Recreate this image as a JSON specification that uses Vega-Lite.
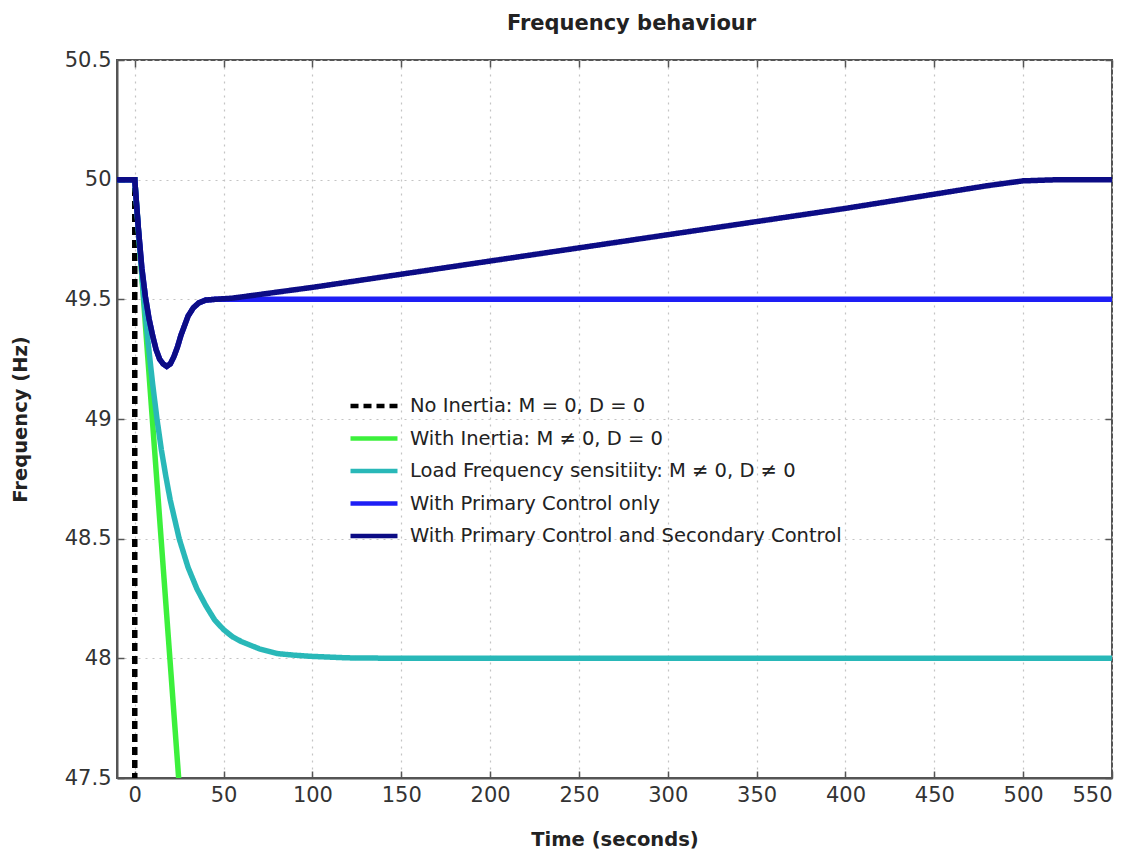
{
  "$schema": "https://vega.github.io/schema/vega-lite/v6.json",
  "width": 995,
  "height": 718,
  "autosize": {"type": "none"},
  "padding": {"left": 117, "top": 60, "right": 30, "bottom": 75},
  "background": "white",
  "title": {"text": "Frequency behaviour", "font": "DejaVu Sans", "fontSize": 21, "fontWeight": "bold", "color": "#222", "offset": 15, "dx": 17},
  "config": {
    "view": {"stroke": "#555", "strokeWidth": 2},
    "axis": {"labelFont": "DejaVu Sans", "labelFontSize": 21, "labelColor": "#333", "titleFont": "DejaVu Sans", "titleFontSize": 19.5, "titleFontWeight": "bold", "titleColor": "#222", "domainColor": "#555", "domainWidth": 2, "tickColor": "#555", "tickWidth": 1.5, "tickSize": -7, "gridColor": "#c4c4c4", "gridDash": [2, 5], "gridWidth": 1.2}
  },
  "data": {"values": [
    {"t": -10, "f": 50, "s": "No Inertia: M = 0, D = 0"},
    {"t": 0, "f": 50, "s": "No Inertia: M = 0, D = 0"},
    {"t": 0, "f": 47.2, "s": "No Inertia: M = 0, D = 0"},
    {"t": -10, "f": 50, "s": "With Inertia: M ≠ 0, D = 0"},
    {"t": 0, "f": 50, "s": "With Inertia: M ≠ 0, D = 0"},
    {"t": 24.7, "f": 47.5, "s": "With Inertia: M ≠ 0, D = 0"},
    {"t": 27.5, "f": 47.22, "s": "With Inertia: M ≠ 0, D = 0"},
    {"t": -10, "f": 50, "s": "Load Frequency sensitiity: M ≠ 0, D ≠ 0"},
    {"t": 0, "f": 50, "s": "Load Frequency sensitiity: M ≠ 0, D ≠ 0"},
    {"t": 2.5, "f": 49.74, "s": "Load Frequency sensitiity: M ≠ 0, D ≠ 0"},
    {"t": 5, "f": 49.51, "s": "Load Frequency sensitiity: M ≠ 0, D ≠ 0"},
    {"t": 7.5, "f": 49.32, "s": "Load Frequency sensitiity: M ≠ 0, D ≠ 0"},
    {"t": 10, "f": 49.15, "s": "Load Frequency sensitiity: M ≠ 0, D ≠ 0"},
    {"t": 12.5, "f": 49.0, "s": "Load Frequency sensitiity: M ≠ 0, D ≠ 0"},
    {"t": 15, "f": 48.87, "s": "Load Frequency sensitiity: M ≠ 0, D ≠ 0"},
    {"t": 17.5, "f": 48.76, "s": "Load Frequency sensitiity: M ≠ 0, D ≠ 0"},
    {"t": 20, "f": 48.66, "s": "Load Frequency sensitiity: M ≠ 0, D ≠ 0"},
    {"t": 22.5, "f": 48.58, "s": "Load Frequency sensitiity: M ≠ 0, D ≠ 0"},
    {"t": 25, "f": 48.5, "s": "Load Frequency sensitiity: M ≠ 0, D ≠ 0"},
    {"t": 30, "f": 48.38, "s": "Load Frequency sensitiity: M ≠ 0, D ≠ 0"},
    {"t": 35, "f": 48.29, "s": "Load Frequency sensitiity: M ≠ 0, D ≠ 0"},
    {"t": 40, "f": 48.22, "s": "Load Frequency sensitiity: M ≠ 0, D ≠ 0"},
    {"t": 45, "f": 48.16, "s": "Load Frequency sensitiity: M ≠ 0, D ≠ 0"},
    {"t": 50, "f": 48.12, "s": "Load Frequency sensitiity: M ≠ 0, D ≠ 0"},
    {"t": 55, "f": 48.09, "s": "Load Frequency sensitiity: M ≠ 0, D ≠ 0"},
    {"t": 60, "f": 48.07, "s": "Load Frequency sensitiity: M ≠ 0, D ≠ 0"},
    {"t": 70, "f": 48.04, "s": "Load Frequency sensitiity: M ≠ 0, D ≠ 0"},
    {"t": 80, "f": 48.02, "s": "Load Frequency sensitiity: M ≠ 0, D ≠ 0"},
    {"t": 90, "f": 48.013, "s": "Load Frequency sensitiity: M ≠ 0, D ≠ 0"},
    {"t": 100, "f": 48.008, "s": "Load Frequency sensitiity: M ≠ 0, D ≠ 0"},
    {"t": 120, "f": 48.002, "s": "Load Frequency sensitiity: M ≠ 0, D ≠ 0"},
    {"t": 150, "f": 48, "s": "Load Frequency sensitiity: M ≠ 0, D ≠ 0"},
    {"t": 550, "f": 48, "s": "Load Frequency sensitiity: M ≠ 0, D ≠ 0"},
    {"t": -10, "f": 50, "s": "With Primary Control only"},
    {"t": 0, "f": 50, "s": "With Primary Control only"},
    {"t": 2, "f": 49.8, "s": "With Primary Control only"},
    {"t": 4, "f": 49.63, "s": "With Primary Control only"},
    {"t": 6, "f": 49.51, "s": "With Primary Control only"},
    {"t": 8, "f": 49.42, "s": "With Primary Control only"},
    {"t": 10, "f": 49.35, "s": "With Primary Control only"},
    {"t": 12, "f": 49.29, "s": "With Primary Control only"},
    {"t": 14, "f": 49.25, "s": "With Primary Control only"},
    {"t": 16, "f": 49.23, "s": "With Primary Control only"},
    {"t": 18, "f": 49.22, "s": "With Primary Control only"},
    {"t": 20, "f": 49.23, "s": "With Primary Control only"},
    {"t": 22, "f": 49.26, "s": "With Primary Control only"},
    {"t": 24, "f": 49.3, "s": "With Primary Control only"},
    {"t": 26, "f": 49.35, "s": "With Primary Control only"},
    {"t": 28, "f": 49.39, "s": "With Primary Control only"},
    {"t": 30, "f": 49.43, "s": "With Primary Control only"},
    {"t": 33, "f": 49.465, "s": "With Primary Control only"},
    {"t": 36, "f": 49.485, "s": "With Primary Control only"},
    {"t": 40, "f": 49.497, "s": "With Primary Control only"},
    {"t": 45, "f": 49.5, "s": "With Primary Control only"},
    {"t": 550, "f": 49.5, "s": "With Primary Control only"},
    {"t": -10, "f": 50, "s": "With Primary Control and Secondary Control"},
    {"t": 0, "f": 50, "s": "With Primary Control and Secondary Control"},
    {"t": 2, "f": 49.8, "s": "With Primary Control and Secondary Control"},
    {"t": 4, "f": 49.63, "s": "With Primary Control and Secondary Control"},
    {"t": 6, "f": 49.51, "s": "With Primary Control and Secondary Control"},
    {"t": 8, "f": 49.42, "s": "With Primary Control and Secondary Control"},
    {"t": 10, "f": 49.35, "s": "With Primary Control and Secondary Control"},
    {"t": 12, "f": 49.29, "s": "With Primary Control and Secondary Control"},
    {"t": 14, "f": 49.25, "s": "With Primary Control and Secondary Control"},
    {"t": 16, "f": 49.23, "s": "With Primary Control and Secondary Control"},
    {"t": 18, "f": 49.22, "s": "With Primary Control and Secondary Control"},
    {"t": 20, "f": 49.23, "s": "With Primary Control and Secondary Control"},
    {"t": 22, "f": 49.26, "s": "With Primary Control and Secondary Control"},
    {"t": 24, "f": 49.3, "s": "With Primary Control and Secondary Control"},
    {"t": 26, "f": 49.35, "s": "With Primary Control and Secondary Control"},
    {"t": 28, "f": 49.39, "s": "With Primary Control and Secondary Control"},
    {"t": 30, "f": 49.43, "s": "With Primary Control and Secondary Control"},
    {"t": 33, "f": 49.465, "s": "With Primary Control and Secondary Control"},
    {"t": 36, "f": 49.485, "s": "With Primary Control and Secondary Control"},
    {"t": 40, "f": 49.497, "s": "With Primary Control and Secondary Control"},
    {"t": 45, "f": 49.5, "s": "With Primary Control and Secondary Control"},
    {"t": 55, "f": 49.505, "s": "With Primary Control and Secondary Control"},
    {"t": 100, "f": 49.55, "s": "With Primary Control and Secondary Control"},
    {"t": 200, "f": 49.66, "s": "With Primary Control and Secondary Control"},
    {"t": 300, "f": 49.77, "s": "With Primary Control and Secondary Control"},
    {"t": 400, "f": 49.88, "s": "With Primary Control and Secondary Control"},
    {"t": 480, "f": 49.975, "s": "With Primary Control and Secondary Control"},
    {"t": 500, "f": 49.995, "s": "With Primary Control and Secondary Control"},
    {"t": 520, "f": 50, "s": "With Primary Control and Secondary Control"},
    {"t": 550, "f": 50, "s": "With Primary Control and Secondary Control"}
  ]},
  "layer": [
    {
      "mark": {"type": "line", "clip": true, "strokeWidth": 5.5},
      "encoding": {
        "x": {"field": "t", "type": "quantitative", "scale": {"domain": [-10, 550], "nice": false, "zero": false}, "axis": {"values": [0, 50, 100, 150, 200, 250, 300, 350, 400, 450, 500, 550], "title": "Time (seconds)", "titlePadding": 25, "labelPadding": 13}},
        "y": {"field": "f", "type": "quantitative", "scale": {"domain": [47.5, 50.5], "nice": false, "zero": false}, "axis": {"values": [47.5, 48, 48.5, 49, 49.5, 50, 50.5], "format": "~g", "title": "Frequency (Hz)", "titlePadding": 34, "labelPadding": 13}},
        "order": {"value": null},
        "color": {"field": "s", "type": "nominal", "sort": null, "scale": {"domain": ["No Inertia: M = 0, D = 0", "With Inertia: M ≠ 0, D = 0", "Load Frequency sensitiity: M ≠ 0, D ≠ 0", "With Primary Control only", "With Primary Control and Secondary Control"], "range": ["#000000", "#3cf03c", "#29b8b8", "#1e1ef5", "#0c0c85"]},
          "legend": {"title": null, "orient": "none", "legendX": 243, "legendY": 332, "symbolType": "M-2,0H2", "symbolSize": 552, "symbolStrokeWidth": 4.5, "labelFont": "DejaVu Sans", "labelFontSize": 19.5, "labelColor": "#222", "labelOffset": 22, "rowPadding": 8.5, "padding": 0, "labelLimit": 600}},
        "strokeDash": {"field": "s", "type": "nominal", "sort": null, "scale": {"domain": ["No Inertia: M = 0, D = 0", "With Inertia: M ≠ 0, D = 0", "Load Frequency sensitiity: M ≠ 0, D ≠ 0", "With Primary Control only", "With Primary Control and Secondary Control"], "range": [[8, 5], [1, 0], [1, 0], [1, 0], [1, 0]]},
          "legend": {"title": null, "orient": "none", "legendX": 243, "legendY": 332, "symbolType": "M-2,0H2", "symbolSize": 552, "symbolStrokeWidth": 4.5, "labelFont": "DejaVu Sans", "labelFontSize": 19.5, "labelColor": "#222", "labelOffset": 22, "rowPadding": 8.5, "padding": 0, "labelLimit": 600}}
      }
    },
    {
      "mark": {"type": "line", "strokeOpacity": 0},
      "encoding": {
        "x": {"field": "t", "type": "quantitative", "axis": {"orient": "top", "values": [0, 50, 100, 150, 200, 250, 300, 350, 400, 450, 500, 550], "labels": false, "domain": false, "grid": false, "title": null}},
        "y": {"field": "f", "type": "quantitative", "axis": {"orient": "right", "values": [47.5, 48, 48.5, 49, 49.5, 50, 50.5], "labels": false, "domain": false, "grid": false, "title": null}},
        "detail": {"field": "s"}
      }
    }
  ],
  "resolve": {"axis": {"x": "independent", "y": "independent"}}
}
